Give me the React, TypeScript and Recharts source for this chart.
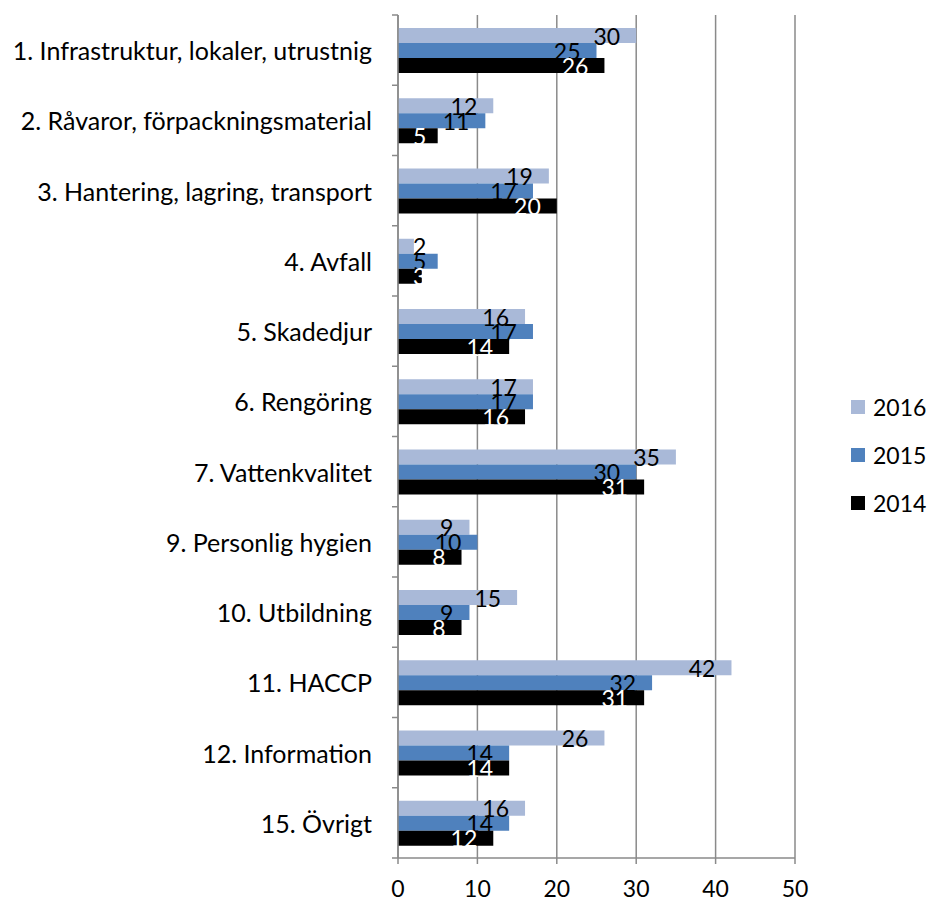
import { BarChart, Bar, XAxis, YAxis, CartesianGrid, LabelList } from 'recharts';

const categories = [
  '1. Infrastruktur, lokaler, utrustnig',
  '2. Råvaror, förpackningsmaterial',
  '3. Hantering, lagring, transport',
  '4. Avfall',
  '5. Skadedjur',
  '6. Rengöring',
  '7. Vattenkvalitet',
  '9. Personlig hygien',
  '10. Utbildning',
  '11. HACCP',
  '12. Information',
  '15. Övrigt',
];
const values2016 = [30, 12, 19, 2, 16, 17, 35, 9, 15, 42, 26, 16];
const values2015 = [25, 11, 17, 5, 17, 17, 30, 10, 9, 32, 14, 14];
const values2014 = [26, 5, 20, 3, 14, 16, 31, 8, 8, 31, 14, 12];
const xTicks = [0, 10, 20, 30, 40, 50];

const series = [
  { key: 'y2016', name: '2016', color: '#A9B9D8', text: '#000' },
  { key: 'y2015', name: '2015', color: '#4F81BD', text: '#000' },
  { key: 'y2014', name: '2014', color: '#000000', text: '#fff' },
];

const data = categories.map((name, i) => ({
  name,
  y2016: values2016[i],
  y2015: values2015[i],
  y2014: values2014[i],
}));

const FONT = 'Lato, "Open Sans", sans-serif';
const FS = 23;
const CAT_FS = 25;
const GRAY = '#8a8a8a';
const TOP = 15;
const BOTTOM = 858;
const LEFT = 398;
const BAND = (BOTTOM - TOP) / categories.length;

function CategoryTick(props: any) {
  const { y, payload, index } = props;
  return (
    <g>
      <line x1={LEFT - 6} x2={LEFT} y1={y - BAND / 2} y2={y - BAND / 2} stroke={GRAY} strokeWidth={1.5} />
      {index === categories.length - 1 && (
        <line x1={LEFT - 6} x2={LEFT} y1={y + BAND / 2} y2={y + BAND / 2} stroke={GRAY} strokeWidth={1.5} />
      )}
      <text x={LEFT - 26} y={y} textAnchor="end" dominantBaseline="central" fill="#000" fontSize={CAT_FS} fontFamily={FONT}>
        {payload.value}
      </text>
    </g>
  );
}

function valueLabel(color: string) {
  return (props: any) => {
    const { x, y, width, height, value } = props;
    const tw = String(value).length * FS * 0.58;
    const right = Math.max(x + width - 16, x + 15 + tw);
    return (
      <text x={right} y={y + height / 2} textAnchor="end" dominantBaseline="central" fill={color} fontSize={FS} fontFamily={FONT}>
        {value}
      </text>
    );
  };
}

function LegendBox() {
  return (
    <div style={{ position: 'absolute', left: 851, top: 383, fontFamily: FONT, fontSize: FS, color: '#000' }}>
      {series.map((s) => (
        <div key={s.key} style={{ display: 'flex', alignItems: 'center', height: 48 }}>
          <span style={{ width: 14, height: 14, background: s.color, marginRight: 8, display: 'inline-block' }} />
          <span>{s.name}</span>
        </div>
      ))}
    </div>
  );
}

export default function App() {
  return (
    <div style={{ position: 'absolute', left: 0, top: 0, width: 929, height: 903, background: '#fff' }}>
      <BarChart
        width={929}
        height={903}
        data={data}
        layout="vertical"
        margin={{ top: TOP, right: 134, bottom: 0, left: 0 }}
        barSize={15}
        barGap={0}
      >
        <CartesianGrid horizontal={false} vertical stroke={GRAY} strokeWidth={1.5} />
        <XAxis
          type="number"
          domain={[0, 50]}
          ticks={xTicks}
          interval={0}
          height={45}
          tickSize={6}
          tickMargin={17}
          axisLine={{ stroke: GRAY, strokeWidth: 1.5 }}
          tickLine={{ stroke: GRAY, strokeWidth: 1.5 }}
          tick={{ fill: '#000', fontSize: FS, fontFamily: FONT }}
        />
        <YAxis
          type="category"
          dataKey="name"
          width={LEFT}
          interval={0}
          axisLine={{ stroke: GRAY, strokeWidth: 1.5 }}
          tickLine={false}
          tick={<CategoryTick />}
        />
        {series.map((s) => (
          <Bar key={s.key} dataKey={s.key} name={s.name} fill={s.color} isAnimationActive={false}>
            <LabelList dataKey={s.key} content={valueLabel(s.text)} />
          </Bar>
        ))}
      </BarChart>
      <LegendBox />
    </div>
  );
}
